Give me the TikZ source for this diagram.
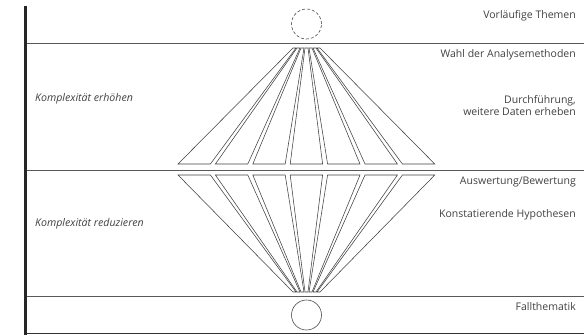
\documentclass[tikz,border=0pt]{standalone}
\usepackage{fontspec}
\setmainfont{Open Sans}
\begin{document}
\begin{tikzpicture}[x=1pt,y=-1pt,
  hline/.style={draw=black!65,line width=0.9pt},
  strip/.style={draw=black!75,line width=0.55pt,fill=white},
  rlabel/.style={anchor=east,text=black!75,font=\fontsize{10.5}{12.5}\selectfont,align=right,inner sep=0pt},
  llabel/.style={anchor=west,text=black!75,font=\fontsize{10.6}{12.5}\selectfont\itshape,inner sep=0pt},
  ring/.style={circle,draw=black!70,line width=0.6pt,minimum size=30pt,inner sep=0pt}]
\useasboundingbox (0,0) rectangle (584,335);
% horizontal lines
\draw[hline] (25,43) -- (584,43);
\draw[hline] (25,170.5) -- (584,170.5);
\draw[hline] (25,296) -- (584,296);
\draw[draw=black!80,line width=1.2pt] (25,333.5) -- (584,333.5);
% left bar
\draw[black!85,line width=3pt] (25,6) -- (25,335);
% fans
\foreach \i in {0,...,6}{
  \pgfmathsetmacro{\ta}{293+4*\i}
  \pgfmathsetmacro{\tb}{\ta+3}
  \pgfmathsetmacro{\ba}{178+37.4*\i}
  \pgfmathsetmacro{\bb}{\ba+32.4}
  \draw[strip] (\ta,48) -- (\tb,48) -- (\bb,164) -- (\ba,164) -- cycle;
  \draw[strip] (\ta,292) -- (\tb,292) -- (\bb,175) -- (\ba,175) -- cycle;
}
% circles
\node[ring,dashed,dash pattern=on 3pt off 2pt] (top) at (306.5,24) {};
\node[ring] (bottom) at (306.5,315) {};
% labels
\node[rlabel] (t1) at (576,16) {Vorläufige Themen};
\node[rlabel] (t2) at (576,55) {Wahl der Analysemethoden};
\node[rlabel] (t3) at (576,105.5) {Durchführung,\\weitere Daten erheben};
\node[rlabel] (t4) at (576,182) {Auswertung/Bewertung};
\node[rlabel] (t5) at (576,215) {Konstatierende Hypothesen};
\node[rlabel] (t6) at (576,307) {Fallthematik};
\node[llabel] (l1) at (35,99) {Komplexität erhöhen};
\node[llabel] (l2) at (35,224) {Komplexität reduzieren};
\end{tikzpicture}
\end{document}
